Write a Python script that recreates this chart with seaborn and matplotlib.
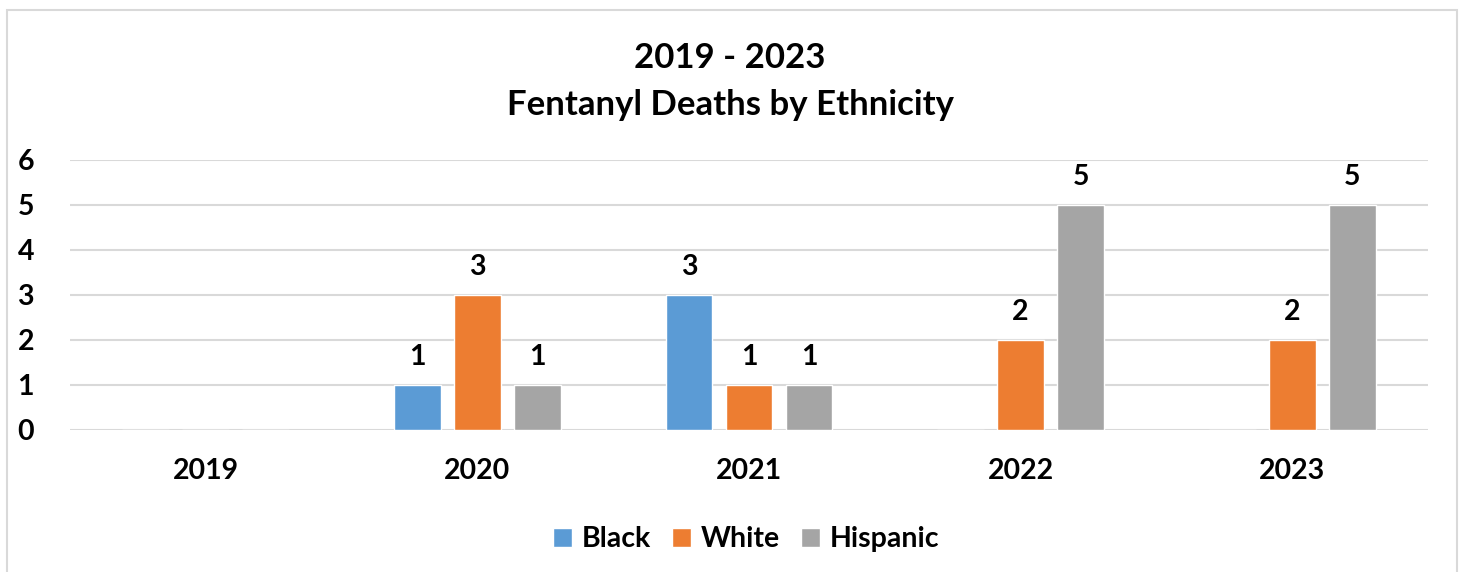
import numpy as np
import pandas as pd
import seaborn as sns
import matplotlib
matplotlib.use('Agg')
import matplotlib.pyplot as plt
from matplotlib.patches import Rectangle

# chart data
years = ['2019', '2020', '2021', '2022', '2023']
black = [0, 1, 3, 0, 0]
white = [0, 3, 1, 2, 2]
hispanic = [0, 1, 1, 5, 5]
groups = ['Black', 'White', 'Hispanic']
colors = ['#5B9BD5', '#ED7D31', '#A5A5A5']

df = pd.DataFrame({
    'year': years * 3,
    'group': np.repeat(groups, len(years)),
    'deaths': black + white + hispanic,
})

sns.set_style('white')
plt.rcParams['font.family'] = ['Lato', 'DejaVu Sans']
plt.rcParams['font.weight'] = 'bold'
plt.rcParams['text.color'] = 'black'
plt.rcParams['xtick.color'] = 'black'
plt.rcParams['ytick.color'] = 'black'

fig = plt.figure(figsize=(14.65, 5.72), dpi=100)
ax = fig.add_axes([0.0478, 0.2483, 0.9269, 0.472])

sns.barplot(data=df, x='year', y='deaths', hue='group', palette=colors,
            saturation=1, width=0.663, gap=0.22, ax=ax, legend=True)

# value labels, skip zeros
for cont in ax.containers:
    labels = [f'{int(b.get_height())}' if b.get_height() > 0 else '' for b in cont]
    ax.bar_label(cont, labels=labels, padding=11, fontsize=20.5, fontweight='bold',
                 color='black')

ax.set_ylim(0, 6)
ax.set_xlim(-0.5, 4.5)
ax.set_yticks(range(7))
ax.yaxis.grid(True, color='#D9D9D9', linewidth=1.5)
ax.set_axisbelow(True)
for s in ax.spines.values():
    s.set_visible(False)
ax.tick_params(axis='both', length=0, labelsize=20.5, labelcolor='black')
ax.tick_params(axis='y', pad=26)
ax.tick_params(axis='x', pad=20)
for t in ax.get_xticklabels() + ax.get_yticklabels():
    t.set_fontweight('bold')
ax.set_xlabel('')
ax.set_ylabel('')

ax.legend(loc='center', bbox_to_anchor=(0.5 - 0.002, -0.405), ncol=3, frameon=False,
          handlelength=0.65, handleheight=0.65, handletextpad=0.35,
          columnspacing=0.75, prop={'weight': 'bold', 'size': 20.5})

fig.text(0.4983, 0.898, '2019 - 2023', ha='center', va='center', fontsize=25, fontweight='bold')
fig.text(0.4983, 0.817, 'Fentanyl Deaths by Ethnicity', ha='center', va='center',
         fontsize=25, fontweight='bold')

# chart frame
fig.patches.append(Rectangle((7 / 1465, -0.01), 1450 / 1465, 1 - 10 / 572 + 0.01,
                             transform=fig.transFigure, fill=False,
                             edgecolor='#D9D9D9', linewidth=1.5))

fig.savefig('out.png', dpi=100)
